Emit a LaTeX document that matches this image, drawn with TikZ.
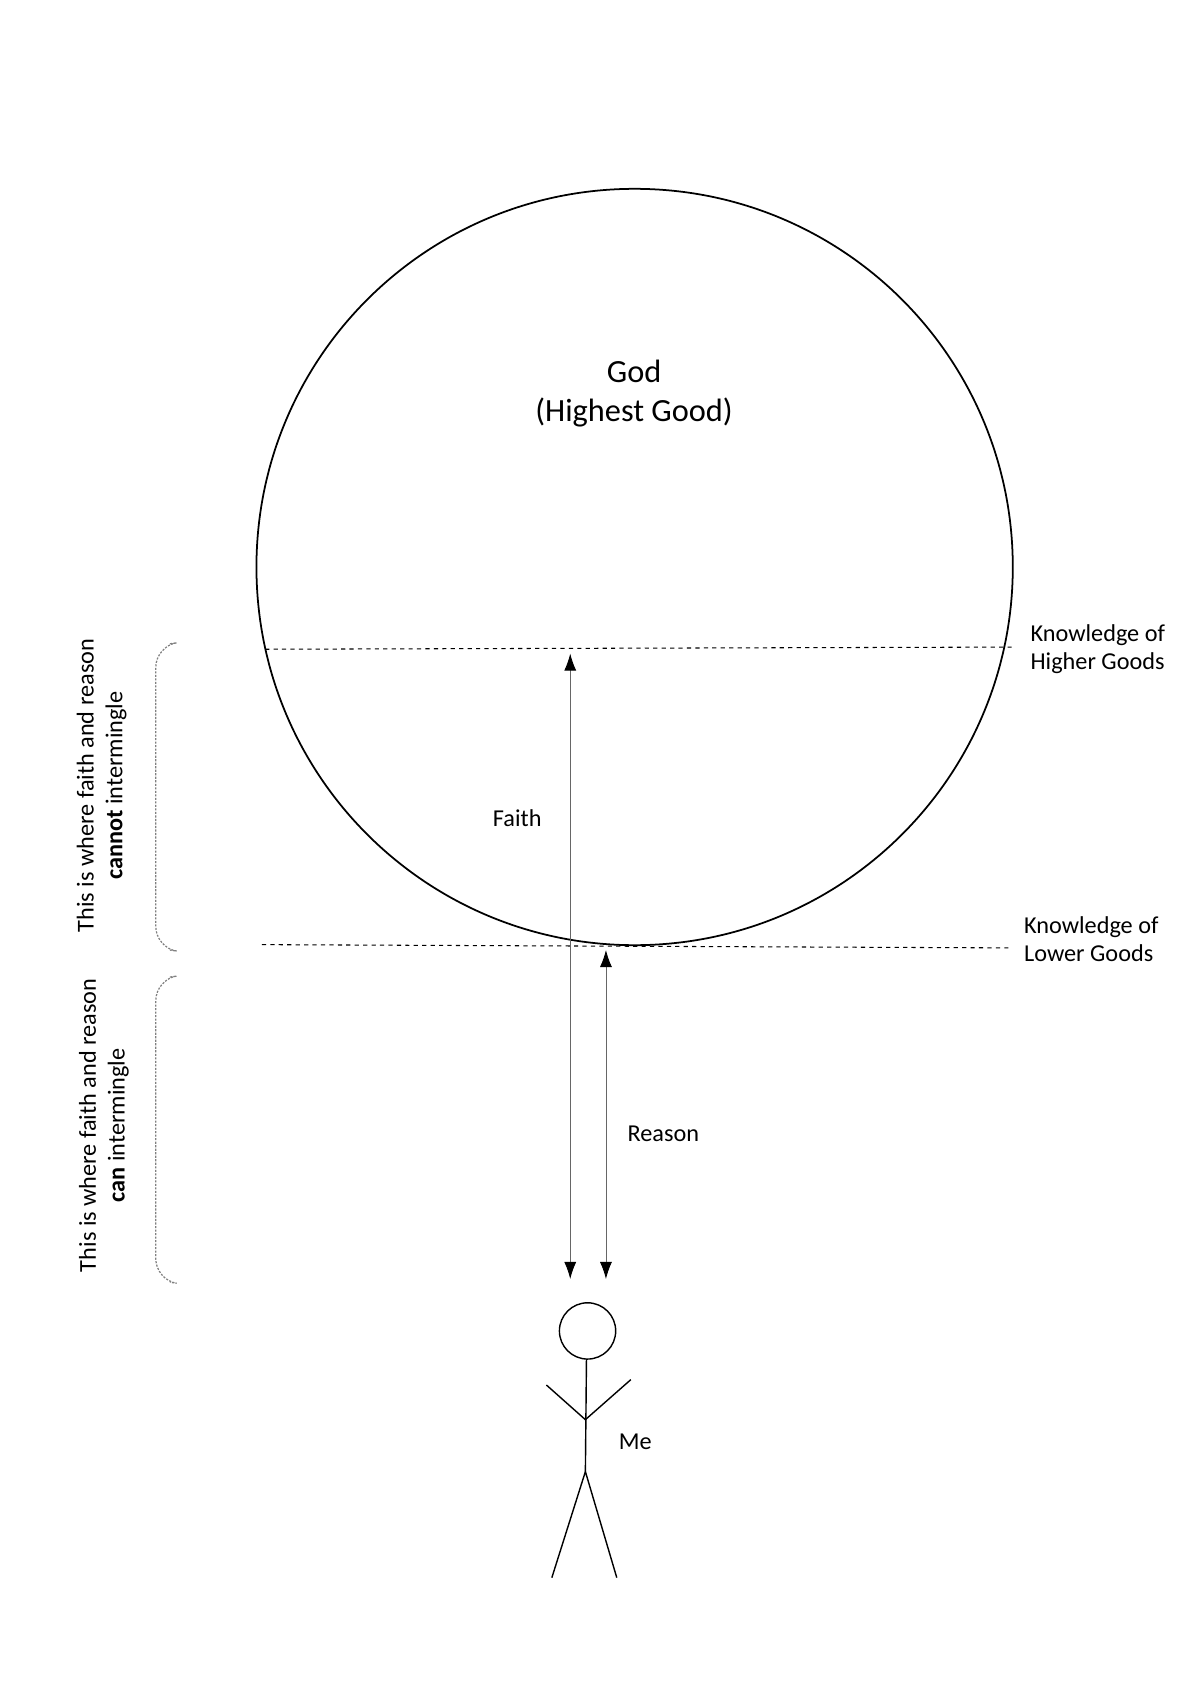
\documentclass[tikz,border=0pt]{standalone}
\usepackage{fontspec}
\setmainfont{Carlito}
\usetikzlibrary{arrows.meta}
\tikzset{
  lbl/.style={font=\fontsize{6.9pt}{8.2pt}\selectfont, align=left},
  arr/.style={{Latex[length=1.7mm,width=1.2mm,black]}-{Latex[length=1.7mm,width=1.2mm,black]}, line width=0.25pt, gray!80!black},
  lev/.style={line width=0.3pt, dash pattern=on 1.2pt off 1.2pt},
  brc/.style={line width=0.35pt, gray, dash pattern=on 0.6pt off 0.4pt, rounded corners=6pt}
}
\begin{document}
\begin{tikzpicture}[x=0.010823cm, y=-0.010823cm]
  \useasboundingbox (0,0) rectangle (1108,1567.4);

  % God circle
  \draw[line width=0.5pt] (586.5,524) circle (349.5);
  \node[font=\fontsize{9.2pt}{11pt}\selectfont, align=center] (god) at (586,364) {God\\(Highest Good)};

  % Levels
  \draw[lev] (245,600) -- (935,598);
  \draw[lev] (242,873) -- (932,876);
  \node[lbl, anchor=west] (higher) at (941,600) {Knowledge of\\Higher Goods};
  \node[lbl, anchor=west] (lower) at (935,868) {Knowledge of\\Lower Goods};

  % Arrows
  \coordinate (ftop) at (527,604);
  \coordinate (fbot) at (527,1182);
  \coordinate (rtop) at (560,878);
  \coordinate (rbot) at (560,1182);
  \draw[arr] (fbot) -- (ftop);
  \draw[arr] (rbot) -- (rtop);
  \node[lbl] (faith) at (478,756) {Faith};
  \node[lbl] (reason) at (613,1048) {Reason};

  % Me
  \draw[line width=0.4pt] (543,1230) circle (26);
  \draw[line width=0.4pt] (542,1256) -- (541,1360);
  \draw[line width=0.4pt] (505,1280) -- (541,1312) -- (583,1275);
  \draw[line width=0.4pt] (510,1458) -- (541,1360) -- (570,1458);
  \node[lbl] (me) at (587,1332) {Me};

  % Brackets
  \draw[brc] (157,595) -- (144,597) -- (144,876) -- (157,878);
  \draw[brc] (157,903) -- (144,905) -- (144,1183) -- (157,1185);
  \node[lbl, rotate=90, align=center] (cannot) at (94,726) {This is where faith and reason\\\textbf{cannot} intermingle};
  \node[lbl, rotate=90, align=center] (can) at (96,1040) {This is where faith and reason\\\textbf{can} intermingle};
\end{tikzpicture}
\end{document}
